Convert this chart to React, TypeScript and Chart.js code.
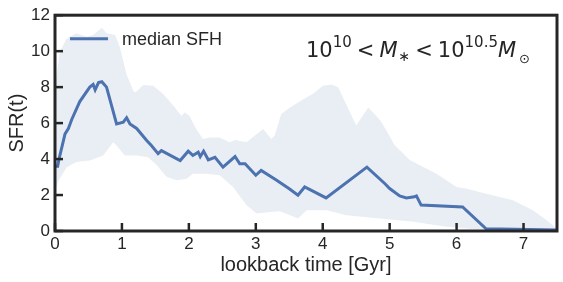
import React, { useEffect, useRef } from "react";
import { Chart, registerables } from "chart.js";

Chart.register(...registerables);

// ---- data (lookback time in Gyr, SFR) ----
const medianT = [0, 0.04, 0.06, 0.15, 0.2, 0.25, 0.37, 0.52, 0.57, 0.6, 0.65, 0.7, 0.77, 0.92, 1.02, 1.07, 1.12, 1.22, 1.37, 1.44, 1.54, 1.59, 1.87, 1.99, 2.06, 2.14, 2.17, 2.22, 2.29, 2.39, 2.51, 2.69, 2.76, 2.84, 3.0, 3.08, 3.3, 3.5, 3.63, 3.73, 4.05, 4.66, 4.93, 5.0, 5.15, 5.25, 5.37, 5.4, 5.47, 6.09, 6.44, 7.5];
const medianV = [3.6, 3.6, 4.0, 5.4, 5.7, 6.2, 7.2, 8.0, 8.15, 7.85, 8.25, 8.3, 8.0, 5.95, 6.05, 6.3, 5.95, 5.7, 5.03, 4.75, 4.3, 4.47, 3.92, 4.44, 4.2, 4.38, 4.14, 4.44, 3.96, 4.1, 3.55, 4.14, 3.74, 3.74, 3.1, 3.37, 2.85, 2.35, 1.99, 2.45, 1.84, 3.55, 2.63, 2.36, 1.95, 1.84, 1.9, 1.95, 1.44, 1.34, 0.12, 0.05];

const upperT = [0, 0.015, 0.075, 0.175, 0.32, 0.47, 0.57, 0.7, 0.77, 0.9, 0.97, 1.07, 1.17, 1.2, 1.32, 1.47, 1.62, 1.77, 1.89, 1.94, 2.01, 2.11, 2.21, 2.31, 2.46, 2.61, 2.69, 2.86, 3.11, 3.23, 3.28, 3.38, 3.51, 3.71, 3.86, 4.0, 4.13, 4.23, 4.5, 4.68, 4.85, 4.95, 5.07, 5.3, 5.7, 6.0, 6.14, 6.34, 6.84, 7.14, 7.34, 7.49, 7.5];
const upperV = [8.0, 8.5, 10.0, 10.7, 11.0, 10.8, 10.9, 11.3, 11.0, 10.9, 10.2, 8.7, 7.8, 7.7, 8.12, 8.07, 7.6, 6.96, 6.4, 6.6, 6.4, 5.67, 5.12, 5.2, 5.2, 4.93, 5.06, 4.93, 5.67, 5.12, 5.3, 6.5, 6.87, 7.33, 7.64, 8.07, 8.15, 8.0, 5.86, 6.87, 6.2, 5.6, 4.8, 3.95, 3.19, 2.45, 2.36, 2.17, 1.71, 1.16, 0.61, 0.15, 0.1];

const lowerT = [0, 0.05, 0.175, 0.32, 0.52, 0.72, 0.87, 0.92, 1.04, 1.22, 1.39, 1.52, 1.67, 1.82, 1.97, 2.06, 2.26, 2.46, 2.66, 2.86, 3.01, 3.26, 3.36, 3.51, 3.63, 3.76, 4.06, 4.35, 4.85, 5.35, 5.85, 6.34, 7.5];
const lowerV = [2.17, 2.8, 3.55, 3.83, 3.92, 4.2, 4.93, 4.75, 4.2, 4.2, 4.1, 3.65, 3.0, 2.82, 2.91, 3.19, 3.19, 3.1, 2.45, 1.44, 0.98, 1.07, 1.1, 0.88, 0.7, 1.16, 1.16, 0.88, 0.7, 0.51, 0.24, 0.09, 0.05];

const xTicks = [0, 1, 2, 3, 4, 5, 6, 7];
const yTicks = [0, 2, 4, 6, 8, 10, 12];
const legendLabel = "median SFH";
const xTitle = "lookback time [Gyr]";
const yTitle = "SFR(t)";

const BLUE = "#4c72b0";
const BAND = "rgba(76,114,176,0.12)";
const INK = "#262626";
const SANS = "'Liberation Sans', Arial, sans-serif";
const MATH = "'DejaVu Sans', sans-serif";

const framePlugin = {
  id: "frame",
  afterDraw(chart: any) {
    const { ctx, chartArea: a, scales } = chart;
    ctx.save();
    ctx.strokeStyle = INK;
    ctx.lineWidth = 2.5;
    ctx.lineCap = "butt";
    xTicks.forEach((v) => {
      const px = scales.x.getPixelForValue(v);
      ctx.beginPath();
      ctx.moveTo(px, a.bottom);
      ctx.lineTo(px, a.bottom - 8);
      ctx.stroke();
    });
    yTicks.forEach((v) => {
      const py = scales.y.getPixelForValue(v);
      ctx.beginPath();
      ctx.moveTo(a.left, py);
      ctx.lineTo(a.left + 8, py);
      ctx.stroke();
    });
    ctx.lineWidth = 3;
    ctx.strokeRect(a.left, a.top, a.right - a.left, a.bottom - a.top);

    // legend
    ctx.strokeStyle = BLUE;
    ctx.lineWidth = 3;
    ctx.beginPath();
    ctx.moveTo(a.left + 15, a.top + 23.5);
    ctx.lineTo(a.left + 53, a.top + 23.5);
    ctx.stroke();
    ctx.fillStyle = INK;
    ctx.font = `18px ${SANS}`;
    ctx.textBaseline = "alphabetic";
    ctx.textAlign = "left";
    ctx.fillText(legendLabel, a.left + 67, a.top + 30);

    // annotation
    const segs: [string, string, number, number][] = [
      ["10", `21px ${MATH}`, 0, 0],
      ["10", `15px ${MATH}`, -10, 5],
      ["<", `21px ${MATH}`, 0, 5],
      ["M", `italic 21px ${MATH}`, 0, 1],
      ["\u2217", `14px ${MATH}`, 4, 5],
      ["<", `21px ${MATH}`, 0, 5],
      ["10", `21px ${MATH}`, 0, 0],
      ["10.5", `15px ${MATH}`, -10, 0],
      ["M", `italic 21px ${MATH}`, 0, 3],
      ["\u2299", `13px ${MATH}`, 6, 0],
    ];
    let x = a.left + 251;
    const base = a.top + 42;
    segs.forEach(([t, f, dy, gap]) => {
      ctx.font = f;
      ctx.fillText(t, x, base + dy);
      x += ctx.measureText(t).width + gap;
    });
    ctx.restore();
  },
};

export default function App() {
  const ref = useRef<HTMLCanvasElement | null>(null);
  useEffect(() => {
    if (!ref.current) return;
    const toPts = (ts: number[], vs: number[]) => ts.map((t, i) => ({ x: t, y: vs[i] }));
    const chart = new Chart(ref.current, {
      type: "line",
      data: {
        datasets: [
          {
            label: legendLabel,
            data: toPts(medianT, medianV),
            borderColor: BLUE,
            borderWidth: 3,
            pointRadius: 0,
            fill: false,
            tension: 0,
            order: 0,
          },
          {
            label: "lower",
            data: toPts(lowerT, lowerV),
            borderColor: "rgba(0,0,0,0)",
            borderWidth: 1,
            backgroundColor: "#ffffff",
            pointRadius: 0,
            fill: "origin",
            tension: 0,
            order: 1,
          },
          {
            label: "upper",
            data: toPts(upperT, upperV),
            borderColor: "rgba(0,0,0,0)",
            borderWidth: 1,
            backgroundColor: BAND,
            pointRadius: 0,
            fill: "origin",
            tension: 0,
            order: 2,
          },
        ],
      },
      options: {
        animation: false,
        responsive: false,
        maintainAspectRatio: false,
        layout: { padding: { top: 13, right: 6, left: 0, bottom: 0 } },
        plugins: { legend: { display: false }, tooltip: { enabled: false } },
        scales: {
          x: {
            type: "linear",
            min: 0,
            max: 7.5,
            afterBuildTicks: (s: any) => {
              s.ticks = xTicks.map((v) => ({ value: v }));
            },
            afterFit: (s: any) => {
              s.height = 51;
            },
            grid: { display: false, drawTicks: false },
            border: { display: false },
            ticks: {
              font: { family: SANS, size: 17 },
              color: INK,
              padding: 3,
              maxRotation: 0,
              autoSkip: false,
            },
            title: {
              display: true,
              text: xTitle,
              font: { family: SANS, size: 20 },
              color: INK,
              padding: { top: 0, bottom: 5 },
            },
          },
          y: {
            type: "linear",
            min: 0,
            max: 12,
            afterBuildTicks: (s: any) => {
              s.ticks = yTicks.map((v) => ({ value: v }));
            },
            afterFit: (s: any) => {
              s.width = 55;
            },
            grid: { display: false, drawTicks: false },
            border: { display: false },
            ticks: {
              font: { family: SANS, size: 17 },
              color: INK,
              padding: 5,
              autoSkip: false,
            },
            title: {
              display: true,
              text: yTitle,
              font: { family: SANS, size: 20 },
              color: INK,
              padding: { top: 5, bottom: 0 },
            },
          },
        },
      },
      plugins: [framePlugin],
    });
    return () => chart.destroy();
  }, []);
  return (
    <div style={{ position: "absolute", left: 0, top: 0, width: 563, height: 282, background: "#fff" }}>
      <canvas ref={ref} width={563} height={282} />
    </div>
  );
}
